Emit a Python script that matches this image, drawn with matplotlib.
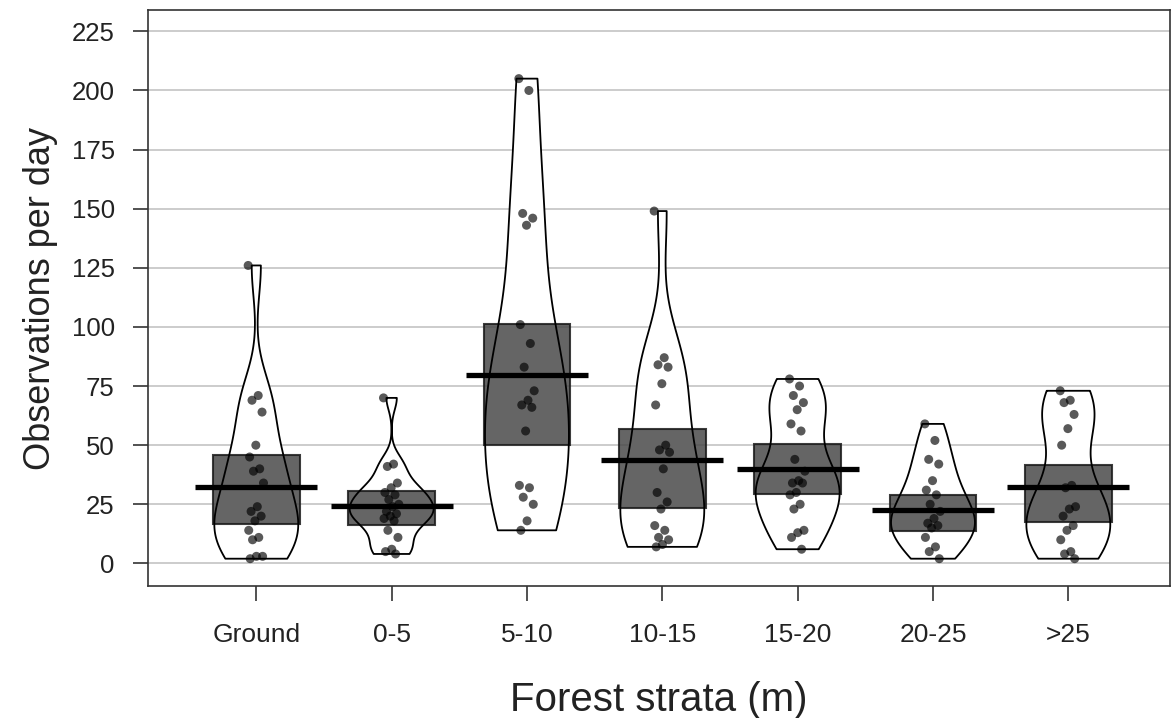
import matplotlib as mpl

mpl.use('Agg')
import matplotlib.pyplot as plt
import numpy as np

plt.rcParams['font.family'] = ['Liberation Sans', 'DejaVu Sans']

# Daily observation counts per forest stratum
strata = ['Ground', '0-5', '5-10', '10-15', '15-20', '20-25', '>25']

obs_ground = [126, 71, 69, 64, 50, 45, 40, 39, 34, 24, 22, 20, 18, 14, 11,
              10, 3, 3, 2]
obs_0_5 = [70, 42, 41, 34, 32, 30, 29, 27, 25, 24, 22, 21, 20, 19, 18, 14,
           11, 6, 5, 4]
obs_5_10 = [205, 200, 148, 146, 143, 101, 93, 83, 73, 69, 67, 66, 56, 33, 32,
            28, 25, 18, 14]
obs_10_15 = [149, 87, 84, 83, 76, 67, 50, 48, 47, 40, 30, 26, 23, 16, 14, 11,
             10, 8, 7]
obs_15_20 = [78, 75, 71, 68, 65, 59, 56, 44, 39, 35, 34, 34, 30, 29, 25, 23,
             14, 13, 11, 6]
obs_20_25 = [59, 52, 44, 42, 35, 31, 29, 25, 22, 19, 17, 16, 15, 11, 7, 5, 2]
obs_over_25 = [73, 69, 68, 63, 57, 50, 33, 32, 24, 23, 20, 16, 14, 10, 5, 4, 2]

# Mean and inference band limits for each stratum
means = [32.4, 24.3, 79.7, 43.7, 40.0, 22.6, 32.3]
band_low = [16.5, 16.4, 50.0, 23.3, 29.3, 13.9, 17.4]
band_high = [45.8, 30.7, 101.4, 56.7, 50.5, 29.1, 41.7]

groups = [obs_ground, obs_0_5, obs_5_10, obs_10_15, obs_15_20, obs_20_25,
          obs_over_25]


def nrd0(kde):
    """Silverman's rule of thumb (R's bw.nrd0) as a kde factor"""
    x = np.ravel(kde.dataset)
    sd = np.std(x, ddof=1)
    q75, q25 = np.percentile(x, [75, 25])
    lo = min(sd, (q75 - q25) / 1.34)
    bw = 0.9 * lo * len(x) ** -0.2
    return bw / sd


pos = np.arange(1, len(strata) + 1)

fig = plt.figure(figsize=(11.71, 7.18), dpi=100)
ax = fig.add_axes([0.1264, 0.184, 0.8726, 0.802])

# bean fill (white, hides the grid)
beans = ax.violinplot(groups, positions=pos, widths=0.62, showextrema=False,
                      bw_method=nrd0, points=200)
for b in beans['bodies']:
    b.set_facecolor('white')
    b.set_edgecolor('none')
    b.set_alpha(1)
    b.set_zorder(2)

# inference bands
ax.bar(pos, np.array(band_high) - np.array(band_low), bottom=band_low,
       width=0.64, color='#4a4a4a', alpha=0.85, edgecolor='#1a1a1a',
       linewidth=1.5, zorder=3)

# bean outline on top of the bands
outline = ax.violinplot(groups, positions=pos, widths=0.62,
                        showextrema=False, bw_method=nrd0, points=200)
for b in outline['bodies']:
    b.set_facecolor('none')
    b.set_edgecolor('black')
    b.set_linewidth(1.3)
    b.set_alpha(1)
    b.set_zorder(4)

# raw points with a small fixed horizontal spread
for p, vals in zip(pos, groups):
    n = len(vals)
    offs = ((np.arange(n) * 0.618034) % 1 - 0.5) * 0.12
    ax.scatter(p + offs, vals, s=42, color='black', alpha=0.65,
               edgecolors='none', zorder=5)

# means
ax.hlines(means, pos - 0.45, pos + 0.45, colors='black', linewidth=3.8,
          zorder=6)

ax.set_xlim(0.2, 7.75)
ax.set_ylim(-9.5, 234)
ax.set_yticks(np.arange(0, 226, 25))
ax.set_xticks(pos)
ax.set_xticklabels(strata)
ax.yaxis.grid(True, color='#cccccc', linewidth=1.4)
ax.set_axisbelow(True)

for s in ax.spines.values():
    s.set_color('#333333')
    s.set_linewidth(1.2)
ax.tick_params(axis='y', length=11, width=1.2, color='#333333',
               labelsize=18.5, pad=13, labelcolor='#222222')
ax.tick_params(axis='x', length=11, width=1.2, color='#333333',
               labelsize=19, pad=16, labelcolor='#222222')

ax.set_xlabel('Forest strata (m)', fontsize=29, labelpad=24,
              color='#222222')
ax.set_ylabel('Observations per day', fontsize=26, labelpad=10,
              color='#222222')

fig.savefig('out.png', dpi=100)
